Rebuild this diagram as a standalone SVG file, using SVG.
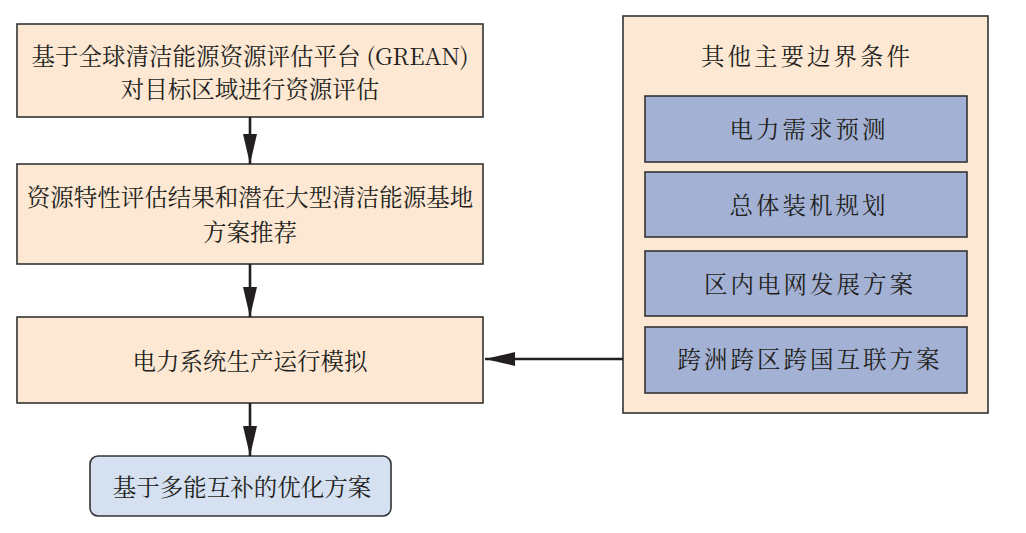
<svg xmlns="http://www.w3.org/2000/svg" width="1026" height="533" viewBox="0 0 1026 533">
<defs>
<marker id="ah" markerUnits="userSpaceOnUse" markerWidth="32" markerHeight="16" refX="30" refY="8" orient="auto">
<path d="M0,1 L30,8 L0,15 Z" fill="#231f20"/>
</marker>
<style>
.pe{fill:#fde8d4;stroke:#333;stroke-width:1.6}
.bl{fill:#a3b2d4;stroke:#333;stroke-width:1.6}
.lb{fill:#d5e1f1;stroke:#333;stroke-width:1.6}
text{font-family:"Noto Serif CJK SC","Liberation Serif","Noto Sans CJK SC",serif;font-size:23.5px;fill:#231f20;text-anchor:middle}
.sp{letter-spacing:3px}
.cn{stroke:#231f20;stroke-width:2.6;fill:none;marker-end:url(#ah)}
</style>
</defs>
<rect width="1026" height="533" fill="#fff"/>
<g id="n1"><rect class="pe" x="17" y="24" width="466" height="93"/><text x="250" y="65">基于全球清洁能源资源评估平台 (GREAN)</text><text x="250" y="98">对目标区域进行资源评估</text></g>
<g id="n2"><rect class="pe" x="17" y="164" width="466" height="100"/><text x="250" y="206">资源特性评估结果和潜在大型清洁能源基地</text><text x="250" y="241">方案推荐</text></g>
<g id="n3"><rect class="pe" x="17" y="317" width="466" height="86"/><text x="250" y="370">电力系统生产运行模拟</text></g>
<g id="n4"><rect class="lb" x="90" y="456" width="301" height="60" rx="8"/><text x="242" y="496">基于多能互补的优化方案</text></g>
<g id="panel"><rect class="pe" x="623" y="16" width="365" height="397"/><text class="sp" x="807" y="65">其他主要边界条件</text></g>
<g id="b1"><rect class="bl" x="645" y="96" width="322" height="66"/><text class="sp" x="809" y="138">电力需求预测</text></g>
<g id="b2"><rect class="bl" x="645" y="172" width="322" height="65"/><text class="sp" x="809" y="214">总体装机规划</text></g>
<g id="b3"><rect class="bl" x="645" y="251" width="322" height="65"/><text class="sp" x="810" y="293">区内电网发展方案</text></g>
<g id="b4"><rect class="bl" x="645" y="327" width="322" height="66"/><text class="sp" x="810" y="368">跨洲跨区跨国互联方案</text></g>
<g id="connectors">
<line class="cn" x1="250" y1="117" x2="250" y2="164"/>
<line class="cn" x1="250" y1="264" x2="250" y2="317"/>
<line class="cn" x1="250" y1="403" x2="250" y2="456"/>
<line class="cn" x1="623" y1="359" x2="485" y2="359"/>
</g>
</svg>
